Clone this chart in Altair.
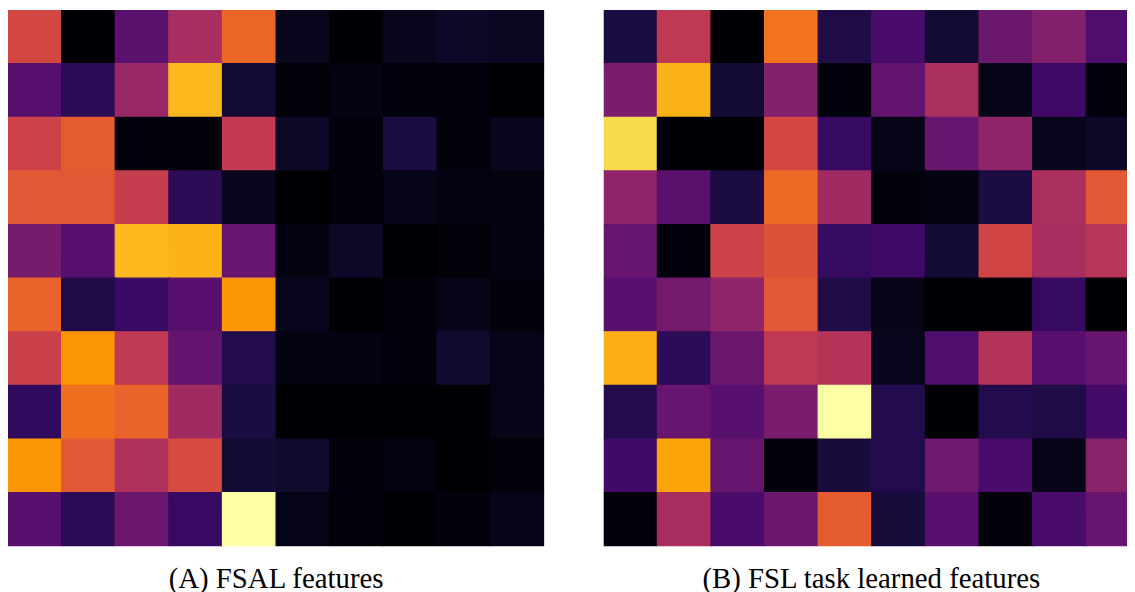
import altair as alt
import pandas as pd

# Heatmap values (0..1, inferno colour scale), rows top to bottom
fsal = [
    [0.57, 0.00, 0.26, 0.45, 0.66, 0.05, 0.00, 0.05, 0.07, 0.06],
    [0.25, 0.15, 0.41, 0.84, 0.09, 0.01, 0.03, 0.01, 0.02, 0.00],
    [0.55, 0.63, 0.02, 0.02, 0.52, 0.07, 0.02, 0.11, 0.02, 0.05],
    [0.62, 0.62, 0.53, 0.15, 0.05, 0.00, 0.02, 0.04, 0.03, 0.03],
    [0.33, 0.25, 0.84, 0.83, 0.29, 0.03, 0.07, 0.00, 0.01, 0.03],
    [0.65, 0.12, 0.18, 0.25, 0.77, 0.05, 0.00, 0.01, 0.04, 0.02],
    [0.54, 0.77, 0.51, 0.28, 0.13, 0.03, 0.03, 0.02, 0.08, 0.04],
    [0.16, 0.68, 0.65, 0.43, 0.11, 0.00, 0.00, 0.00, 0.00, 0.04],
    [0.77, 0.62, 0.47, 0.58, 0.09, 0.08, 0.02, 0.03, 0.00, 0.01],
    [0.25, 0.15, 0.30, 0.18, 1.00, 0.04, 0.01, 0.00, 0.02, 0.04],
]

fsl = [
    [0.11, 0.51, 0.00, 0.69, 0.12, 0.22, 0.09, 0.30, 0.36, 0.23],
    [0.34, 0.83, 0.09, 0.36, 0.02, 0.28, 0.46, 0.04, 0.20, 0.01],
    [0.91, 0.00, 0.00, 0.57, 0.17, 0.04, 0.29, 0.39, 0.05, 0.07],
    [0.39, 0.26, 0.11, 0.67, 0.43, 0.02, 0.03, 0.11, 0.46, 0.62],
    [0.29, 0.02, 0.55, 0.60, 0.17, 0.19, 0.09, 0.56, 0.45, 0.49],
    [0.25, 0.32, 0.39, 0.62, 0.12, 0.04, 0.00, 0.00, 0.17, 0.00],
    [0.82, 0.15, 0.30, 0.51, 0.48, 0.05, 0.23, 0.48, 0.25, 0.29],
    [0.13, 0.29, 0.25, 0.34, 1.00, 0.13, 0.00, 0.13, 0.12, 0.21],
    [0.20, 0.80, 0.29, 0.02, 0.10, 0.13, 0.31, 0.22, 0.04, 0.37],
    [0.02, 0.45, 0.22, 0.30, 0.63, 0.10, 0.25, 0.02, 0.22, 0.29],
]

captions = ["(A) FSAL features", "(B) FSL task learned features"]


def to_df(vals):
    rows = []
    for r, row in enumerate(vals):
        for c, v in enumerate(row):
            rows.append({"r": r, "r2": r + 1, "c": c, "c2": c + 1, "v": v})
    return pd.DataFrame(rows)


CELL = 54
inferno = alt.Scale(scheme="inferno", domain=[0, 1])


def panel(vals, width, caption, dx):
    return (
        alt.Chart(to_df(vals))
        .mark_rect(clip=True, strokeWidth=1.2)
        .encode(
            x=alt.X("c:Q", scale=alt.Scale(domain=[0, width / CELL], nice=False, zero=False), axis=None),
            x2="c2:Q",
            y=alt.Y("r:Q", scale=alt.Scale(domain=[0, 10], nice=False, zero=False, reverse=True), axis=None),
            y2="r2:Q",
            color=alt.Color("v:Q", scale=inferno, legend=None),
            stroke=alt.Stroke("v:Q", scale=inferno, legend=None),
        )
        .properties(
            width=width,
            height=540,
            title=alt.TitleParams(
                caption,
                orient="bottom",
                anchor="middle",
                font="Liberation Serif",
                fontSize=29,
                fontWeight="normal",
                color="black",
                offset=19,
                dx=dx,
            ),
        )
    )


left = panel(fsal, 540, captions[0], 0)
right = panel(fsl, 527, captions[1], 6)

chart = (
    alt.hconcat(left, right, spacing=60)
    .properties(padding={"left": 0, "top": 0, "right": 0, "bottom": 0}, background="white")
    .configure_view(stroke=None)
)

chart.save("out.html", embed_options={"renderer": "svg", "actions": False})
